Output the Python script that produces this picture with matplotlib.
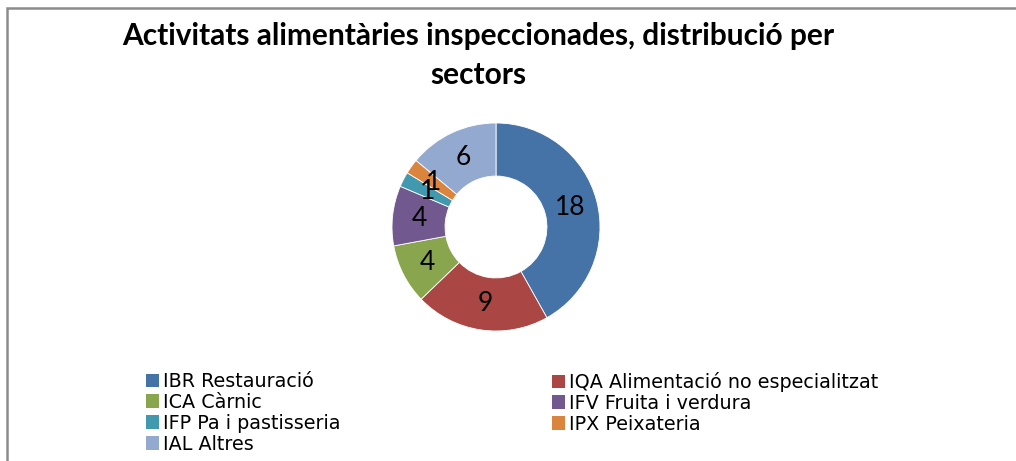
import matplotlib
matplotlib.use("Agg")
import matplotlib.pyplot as plt
from matplotlib.patches import Patch, Rectangle

labels = ['IBR Restauració', 'IQA Alimentació no especialitzat', 'ICA Càrnic',
          'IFV Fruita i verdura', 'IFP Pa i pastisseria', 'IPX Peixateria', 'IAL Altres']
values = [18, 9, 4, 4, 1, 1, 6]
colors = ['#4572A7', '#AA4643', '#89A54E', '#71588F', '#4198AF', '#DB843D', '#93A9CF']
title = 'Activitats alimentàries inspeccionades, distribució per\nsectors'

W, H = 1016, 461
fig = plt.figure(figsize=(W / 100, H / 100), dpi=100)

# chart frame (right and bottom edges run off the picture)
fig.patches.append(Rectangle((7 / W, -0.1), 1.2, 1 - 8 / H + 0.1, transform=fig.transFigure,
                             fill=False, edgecolor='#8c8c8c', linewidth=1.8))

# donut
cx, cy, r = 496, 227, 104
ax = fig.add_axes([(cx - r) / W, (H - cy - r) / H, 2 * r / W, 2 * r / H])
wedges, texts, autotexts = ax.pie(values, colors=colors, startangle=90, counterclock=False,
                                  radius=1, pctdistance=0.74,
                                  autopct=lambda p: '%d' % round(p * sum(values) / 100),
                                  wedgeprops=dict(width=0.51, edgecolor='white', linewidth=0.6),
                                  textprops=dict(fontsize=19, family='Lato', color='black'))
ax.set_xlim(-1, 1)
ax.set_ylim(-1, 1)
ax.set_aspect('auto')
ax.axis('off')

fig.text(478 / W, 1 - 22 / H, title, ha='center', va='top', fontsize=21.5,
         fontweight='bold', family='Lato', linespacing=1.5)

# legend in two columns
handles = [Patch(facecolor=c, edgecolor='none') for c in colors]
order1 = [0, 2, 4, 6]
order2 = [1, 3, 5]
kw = dict(frameon=False, handlelength=0.7, handleheight=0.7,
          handletextpad=0.2, labelspacing=0.1, borderpad=0, borderaxespad=0,
          prop=dict(family='DejaVu Sans', size=13.8))
fig.legend([handles[i] for i in order1], [labels[i] for i in order1],
           loc='upper left', bbox_to_anchor=(146 / W, 1 - 372 / H), **kw)
fig.legend([handles[i] for i in order2], [labels[i] for i in order2],
           loc='upper left', bbox_to_anchor=(552 / W, 1 - 372 / H), **kw)

fig.savefig('out.png', dpi=100)
